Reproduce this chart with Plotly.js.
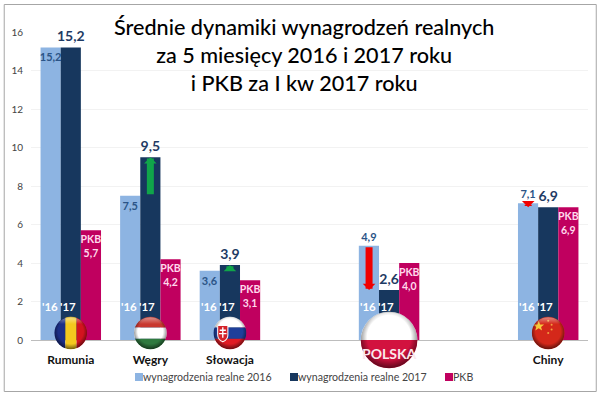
<!DOCTYPE html>
<html><head><meta charset="utf-8">
<script src="https://cdn.plot.ly/plotly-3.0.1.min.js"></script>
<style>html,body{margin:0;padding:0;background:#fff}#c{width:600px;height:393px}</style>
</head><body><div id="c"></div>
<script>
const categories = ['Rumunia','Węgry','Słowacja','·','POLSKA','··','Chiny'];
const countryLabels = ['Rumunia','Węgry','Słowacja','','','','Chiny'];
const wages2016 = [15.2,7.5,3.6,null,4.9,null,7.1];
const wages2017 = [15.2,9.5,3.9,null,2.6,null,6.9];
const gdp = [5.7,4.2,3.1,null,4.0,null,6.9];
const yTicks = [0,2,4,6,8,10,12,14,16];
const seriesNames = ['wynagrodzenia realne 2016','wynagrodzenia realne 2017','PKB'];
const titleText = 'Średnie dynamiki wynagrodzeń realnych<br>za 5 miesięcy 2016 i 2017 roku<br>i PKB za I kw 2017 roku';

const LIGHT='#8DB4E2', DARK='#17375E', MAG='#C0005F', FONT='Lato, "Open Sans", sans-serif';
const W=600,H=393,L=31.25,R=12.25,T=32,B=53;
const pw=W-L-R, ph=H-T-B;
const fmt=v=>v==null?'':v.toFixed(1).replace('.',',');
const px=x=>(x-L)/pw, py=y=>(H-B-y)/ph;
const catX=i=>(i+0.5)/categories.length;

function flag(body,id){
  const svg=`<svg xmlns="http://www.w3.org/2000/svg" viewBox="0 0 100 100"><defs><clipPath id="k"><circle cx="50" cy="50" r="48"/></clipPath>
<radialGradient id="s" cx="50%" cy="45%" r="55%"><stop offset="70%" stop-color="#000" stop-opacity="0"/><stop offset="100%" stop-color="#000" stop-opacity=".55"/></radialGradient>
<linearGradient id="g" x1="0" y1="0" x2="0" y2="1"><stop offset="0" stop-color="#fff" stop-opacity=".45"/><stop offset=".45" stop-color="#fff" stop-opacity="0"/></linearGradient></defs>
<g clip-path="url(#k)">${body}<circle cx="50" cy="50" r="48" fill="url(#s)"/><ellipse cx="50" cy="26" rx="36" ry="22" fill="url(#g)"/></g></svg>`;
  return 'data:image/svg+xml;charset=utf-8,'+encodeURIComponent(svg);
}
const flags=[
 {i:0,b:'<rect width="34" height="100" fill="#1c2f86"/><rect x="34" width="33" height="100" fill="#f4c81e"/><rect x="67" width="33" height="100" fill="#d3131f"/>'},
 {i:1,b:'<rect width="100" height="34" fill="#c8382f"/><rect y="34" width="100" height="33" fill="#fff"/><rect y="67" width="100" height="33" fill="#2f7a3f"/>'},
 {i:2,b:'<rect width="100" height="34" fill="#fff"/><rect y="34" width="100" height="33" fill="#1f3f9a"/><rect y="67" width="100" height="33" fill="#e01b24"/><path d="M14 28h30v28q0 14-15 20q-15-6-15-20z" fill="#d5232a" stroke="#fff" stroke-width="3"/><path d="M27 33h4v7h7v4h-7v6h9v4h-9v10h-4V54h-9v-4h9v-6h-7v-4h7z" fill="#fff"/>'},
 {i:6,b:'<rect width="100" height="100" fill="#d4281a"/><path d="M22 14l4 11h12l-9 7 3 11-10-7-10 7 3-11-9-7h12z" fill="#f6c93c"/><circle cx="50" cy="14" r="3" fill="#f0a040"/><circle cx="60" cy="26" r="3" fill="#f0a040"/><circle cx="60" cy="40" r="3" fill="#f0a040"/><circle cx="50" cy="50" r="3" fill="#f0a040"/>'}
];
const images=flags.map(f=>({source:flag(f.b),xref:'paper',yref:'paper',x:catX(f.i),y:py(333),sizex:34/pw,sizey:34/ph,xanchor:'center',yanchor:'middle',sizing:'stretch',layer:'above'}));
images.push({source:flag('<rect width="100" height="50" fill="#fff"/><rect y="50" width="100" height="50" fill="#d2123f"/>'),xref:'paper',yref:'paper',x:catX(4),y:py(340),sizex:59/pw,sizey:59/ph,xanchor:'center',yanchor:'middle',sizing:'stretch',layer:'above'});

const inside16=[true,true,true,false,false,false,false];
const traces=[
 {type:'bar',name:seriesNames[0],x:categories,y:wages2016,marker:{color:LIGHT},
  text:wages2016.map(fmt),textposition:inside16.map(b=>b?'inside':'outside'),insidetextanchor:'end',
  textfont:{family:FONT,size:11,color:'#2B5487',weight:700},constraintext:'none',cliponaxis:false,textangle:0,hoverinfo:'skip'},
 {type:'bar',name:seriesNames[1],x:categories,y:wages2017,marker:{color:DARK},
  text:wages2017.map(fmt),textposition:'outside',
  textfont:{family:FONT,size:14,color:'#1F3B64',weight:700},constraintext:'none',cliponaxis:false,textangle:0,hoverinfo:'skip'},
 {type:'bar',name:seriesNames[2],x:categories,y:gdp,marker:{color:MAG},
  text:gdp.map(v=>v==null?'':'PKB<br>'+fmt(v)),textposition:'inside',insidetextanchor:'end',
  textfont:{family:FONT,size:10.5,color:'#FFD9EC',weight:700},constraintext:'none',cliponaxis:false,textangle:0,hoverinfo:'skip'}
];

const ann=[];
ann.push({xref:'paper',yref:'paper',x:px(304),y:py(55),xanchor:'center',yanchor:'middle',showarrow:false,text:titleText,font:{family:FONT,size:21.6,color:'#000',weight:500}});
categories.forEach((c,i)=>{
  if(wages2016[i]==null) return;
  [["'16",-21],["'17",-3]].forEach(([t,s])=>ann.push({x:c,y:1.72,xref:'x',yref:'y',xshift:s,showarrow:false,text:t,font:{family:FONT,size:11.5,color:'#fff',weight:700}}));
  const up=wages2017[i]>wages2016[i];
  ann.push({x:c,y:wages2017[i],xref:'x',yref:'y',ax:c,ay:wages2016[i],axref:'x',ayref:'y',xshift:up?0:-20,text:'',showarrow:true,arrowhead:1,arrowsize:0.3,arrowwidth:7,arrowcolor:up?'#10A54A':'#F00000',standoff:0,startstandoff:0});
});
ann.push({xref:'paper',yref:'paper',x:catX(4),y:py(353),xanchor:'center',yanchor:'middle',showarrow:false,text:'<b>POLSKA</b>',font:{family:FONT,size:14,color:'#FBE8EC'}});

Plotly.newPlot('c',traces,{
  width:W,height:H,margin:{l:L,r:R,t:T,b:B,pad:0},paper_bgcolor:'#fff',plot_bgcolor:'#fff',
  barmode:'group',bargap:0.24,bargroupgap:0,
  font:{family:FONT},
  xaxis:{type:'category',categoryorder:'array',categoryarray:categories,tickmode:'array',tickvals:categories,ticktext:countryLabels.map(s=>s?'<b>'+s+'</b>':''),
    tickfont:{family:FONT,size:12,color:'#111'},ticks:'outside',ticklen:9,tickcolor:'rgba(0,0,0,0)',showgrid:false,showline:true,linecolor:'#BDBDBD',linewidth:1,zeroline:false,fixedrange:true},
  yaxis:{range:[0,16],tickmode:'array',tickvals:yTicks,tickfont:{family:FONT,size:10,color:'#444'},gridcolor:'#F2F2F2',gridwidth:1,zeroline:false,showline:false,ticks:'',ticklabelstandoff:7,fixedrange:true},
  showlegend:true,
  legend:{orientation:'h',xref:'container',yref:'container',x:103/W,y:1-377/H,xanchor:'left',yanchor:'middle',entrywidth:110,entrywidthmode:'pixels',font:{family:FONT,size:10.6,color:'#444'},traceorder:'normal',itemclick:false,itemdoubleclick:false,bgcolor:'rgba(0,0,0,0)'},
  images:images,annotations:ann,
  shapes:[{type:'rect',xref:'paper',yref:'paper',x0:px(4.5),x1:px(596),y0:py(4.5),y1:py(391.5),line:{color:'#A6A6A6',width:1},fillcolor:'rgba(0,0,0,0)',layer:'below'}]
},{displayModeBar:false,staticPlot:true}).then(gd=>{
  gd.querySelectorAll('.legend .legendpoints path').forEach(p=>{p.setAttribute('d','M4,4H-4V-4H4Z');p.setAttribute('transform','translate(36,0)');});
});
</script></body></html>
